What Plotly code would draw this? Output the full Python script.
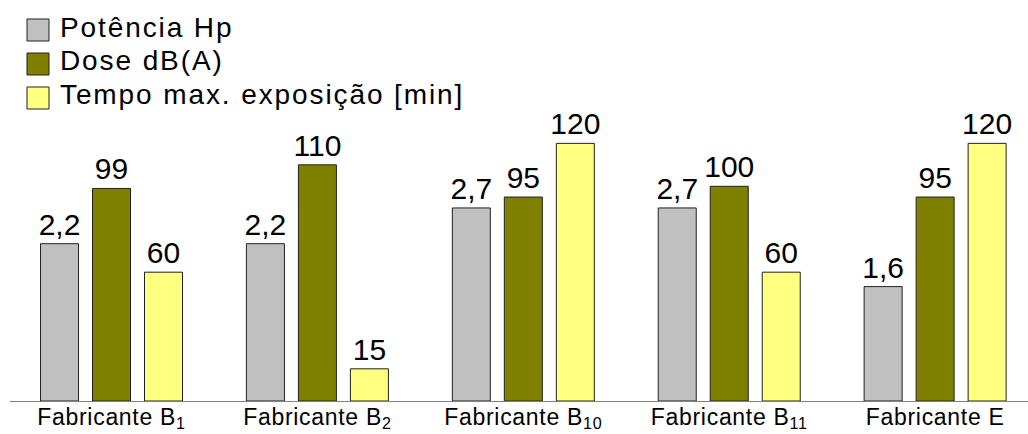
import plotly.graph_objects as go

categories = ["Fabricante B<sub>1</sub>", "Fabricante B<sub>2</sub>", "Fabricante B<sub>10</sub>",
              "Fabricante B<sub>11</sub>", "Fabricante E"]
potencia = [2.2, 2.2, 2.7, 2.7, 1.6]
dose = [99, 110, 95, 100, 95]
tempo = [60, 15, 120, 60, 120]

names = ["Potência Hp", "Dose dB(A)", "Tempo max. exposição [min]"]
colors = ["#C0C0C0", "#808000", "#FFFF80"]

FONT = "Liberation Sans, Arial, sans-serif"
W = 0.1846
offsets = [-0.3448, -0.0923, 0.1602]

FW, FH = 1028, 434
ML, MR, MT, MB = 10, 0, 120, 33
PW, PH = FW - ML - MR, FH - MT - MB
PB = FH - MB


def px2x(px):
    return (px - ML) / PW


def py2y(py):
    return (PB - py) / PH


def fmt(v):
    return f"{v:g}".replace(".", ",")


series = [(potencia, "y2"), (dose, "y"), (tempo, "y")]

fig = go.Figure()
for i, (vals, ax) in enumerate(series):
    fig.add_trace(go.Bar(
        x=categories, y=vals, name=names[i], yaxis=ax,
        width=W, offset=offsets[i], showlegend=False,
        marker=dict(color=colors[i], line=dict(color="#202020", width=1)),
        text=[fmt(v) for v in vals], textposition="outside",
        textfont=dict(size=30, color="black", family=FONT),
        constraintext="none", cliponaxis=False,
    ))

# legend (drawn as shapes + text to match the original's large swatches)
row_centers = [30, 64, 98]
for i, name in enumerate(names):
    yc = row_centers[i]
    fig.add_shape(type="rect", xref="paper", yref="paper",
                  x0=px2x(27), x1=px2x(49), y0=py2y(yc + 11), y1=py2y(yc - 11),
                  fillcolor=colors[i], line=dict(color="#202020", width=1))
    fig.add_annotation(xref="paper", yref="paper", x=px2x(58), y=py2y(yc - 3),
                       xanchor="left", yanchor="middle", showarrow=False,
                       text=f'<span style="letter-spacing:1.9px">{name}</span>',
                       font=dict(size=28, family=FONT, color="black"))

fig.update_layout(
    width=FW, height=FH,
    margin=dict(l=ML, r=MR, t=MT, b=MB, autoexpand=False),
    paper_bgcolor="white", plot_bgcolor="white",
    barmode="overlay",
    font=dict(family=FONT, color="black"),
    showlegend=False,
    xaxis=dict(type="category", range=[-0.493, 4.451], showline=True,
               linecolor="#808080", linewidth=1, ticks="", showgrid=False,
               zeroline=False, automargin=False, ticklabelstandoff=-5,
               tickvals=categories,
               ticktext=[f'<span style="letter-spacing:0.7px">{c}</span>' for c in categories],
               tickfont=dict(size=23, family=FONT, color="black")),
    yaxis=dict(range=[0, PH / 2.147], visible=False, showgrid=False, zeroline=False),
    yaxis2=dict(range=[0, PH / 71.5], overlaying="y", visible=False, showgrid=False,
                zeroline=False),
)

fig.write_html("out.html", config={"displayModeBar": False},
               post_script="document.body.style.margin='0';document.body.style.overflow='hidden';")
